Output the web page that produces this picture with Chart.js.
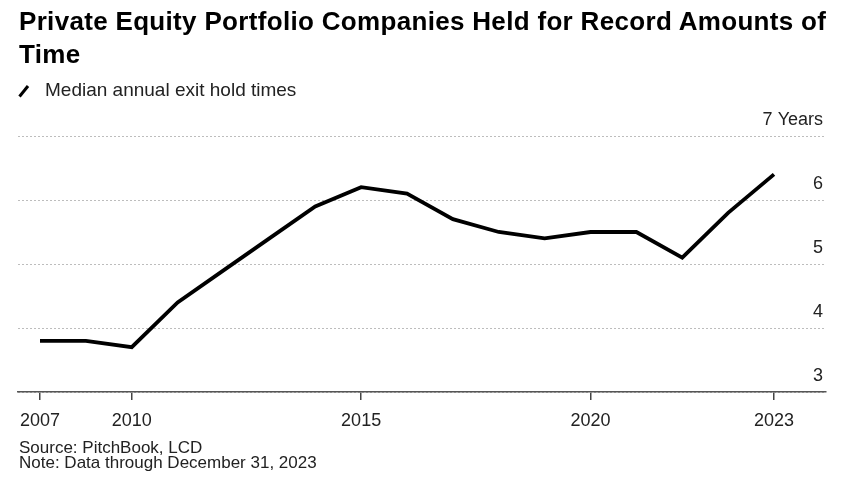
<!DOCTYPE html>
<html>
<head>
<meta charset="utf-8">
<script src="https://cdn.jsdelivr.net/npm/chart.js@4.4.1/dist/chart.umd.min.js"></script>
<style>
  html, body { margin: 0; padding: 0; background: #fff; }
  body { width: 848px; height: 497px; position: relative; overflow: hidden; font-family: "Liberation Sans", Arial, sans-serif; color: #111; }
  #title { position: absolute; left: 19px; top: 4.5px; font-weight: bold; font-size: 26px; line-height: 33px; letter-spacing: 0.32px; color: #000; white-space: nowrap; }
  #legend { position: absolute; left: 18px; top: 80px; font-size: 19px; line-height: 20px; color: #222; white-space: nowrap; }
  #legend svg { position: absolute; left: 0px; top: 4px; }
  #legend .tx { position: absolute; left: 27px; top: 0; }
  #notes { position: absolute; left: 19px; top: 440px; font-size: 17px; line-height: 15px; color: #222; white-space: nowrap; }
  #wrap { position: absolute; left: 0; top: 0; width: 848px; height: 497px; }
</style>
</head>
<body>
<div id="wrap"><canvas id="c" width="848" height="497"></canvas></div>
<div id="title">Private Equity Portfolio Companies Held for Record Amounts of<br>Time</div>
<div id="legend"><svg width="12" height="14" viewBox="0 0 12 14"><line x1="1.5" y1="12.5" x2="10" y2="2" stroke="#000" stroke-width="3" stroke-linecap="butt"/></svg><span class="tx">Median annual exit hold times</span></div>
<div id="notes">Source: PitchBook, LCD<br>Note: Data through December 31, 2023</div>
<script>
// ---- data ----
const categories = ['2007','2008','2009','2010','2011','2012','2013','2014','2015','2016','2017','2018','2019','2020','2021','2022','2023'];
const holdYears = [3.8, 3.8, 3.7, 4.4, 4.9, 5.4, 5.9, 6.2, 6.1, 5.7, 5.5, 5.4, 5.5, 5.5, 5.1, 5.8, 6.4];
const xTickIndex = [0, 2, 7, 12, 16];
const xTickLabels = ['2007', '2010', '2015', '2020', '2023'];
const yTicks = [3, 4, 5, 6, 7];
const yTickLabels = ['3', '4', '5', '6', '7 Years'];
const seriesName = 'Median annual exit hold times';

const points = holdYears.map((v, i) => ({ x: i, y: v }));

new Chart(document.getElementById('c'), {
  type: 'line',
  data: {
    datasets: [{
      label: seriesName,
      data: points,
      borderColor: '#000',
      borderWidth: 3.8,
      pointRadius: 0,
      tension: 0,
      fill: false
    }]
  },
  options: {
    responsive: false,
    animation: false,
    events: [],
    layout: { padding: { left: 18, right: 22, top: 136, bottom: 0 } },
    plugins: { legend: { display: false }, tooltip: { enabled: false }, title: { display: false } },
    scales: {
      x: {
        type: 'linear',
        min: -0.4796,
        max: 17.1335,
        afterBuildTicks: (s) => { s.ticks = xTickIndex.map(v => ({ value: v })); },
        afterFit: (s) => { s.height = 105; },
        ticks: {
          autoSkip: false,
          maxRotation: 0,
          padding: 10,
          color: '#222',
          font: { family: 'Liberation Sans', size: 18 },
          callback: (v) => { const k = xTickIndex.indexOf(v); return k >= 0 ? xTickLabels[k] : ''; }
        },
        grid: { drawOnChartArea: false, tickLength: 8, color: '#444', lineWidth: 1.5 },
        border: { display: true, color: '#555', width: 1.5 }
      },
      y: {
        position: 'right',
        min: 3,
        max: 7,
        afterBuildTicks: (s) => { s.ticks = yTicks.map(v => ({ value: v })); },
        afterFit: (s) => { s.width = 0; },
        ticks: {
          mirror: true,
          padding: -3,
          labelOffset: -16,
          color: '#222',
          font: { family: 'Liberation Sans', size: 18 },
          callback: (v) => { const k = yTicks.indexOf(v); return k >= 0 ? yTickLabels[k] : ''; }
        },
        grid: { drawTicks: false, color: '#bdbdbd', lineWidth: 1 },
        border: { display: false, dash: [2, 2] }
      }
    }
  }
});
</script>
</body>
</html>
